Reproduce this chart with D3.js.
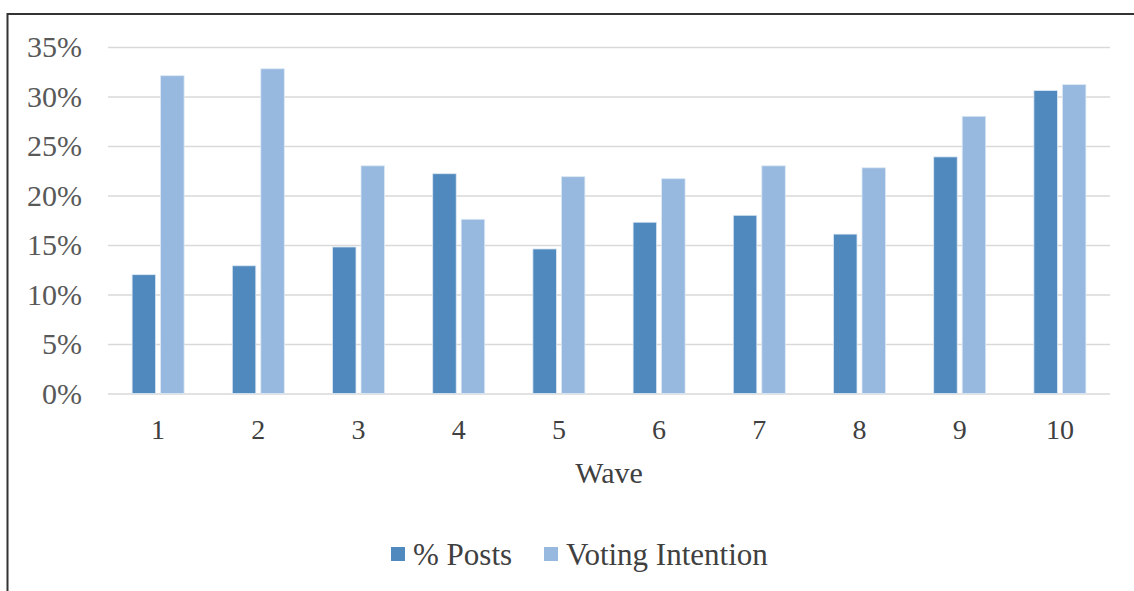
<!DOCTYPE html>
<html>
<head>
<meta charset="utf-8">
<script src="https://cdn.jsdelivr.net/npm/d3@7"></script>
<style>
  body { margin: 0; background: #fff; }
  svg { display: block; }
</style>
</head>
<body>
<div id="chart"></div>
<script>
// Data
var waves = ["1", "2", "3", "4", "5", "6", "7", "8", "9", "10"];
var postsPct = [12.0, 12.9, 14.8, 22.2, 14.6, 17.3, 18.0, 16.1, 23.9, 30.6];
var votingPct = [32.1, 32.8, 23.0, 17.6, 21.9, 21.7, 23.0, 22.8, 28.0, 31.2];
var seriesNames = ["% Posts", "Voting Intention"];
var yTicks = [0, 5, 10, 15, 20, 25, 30, 35];

var seriesColors = ["#4f89bd", "#98b9df"];
var fontFamily = "'Liberation Serif', 'Times New Roman', serif";

var width = 1134, height = 591;
var margin = { top: 47, right: 24, bottom: 197.5, left: 108 };
var innerWidth = width - margin.left - margin.right;
var innerHeight = height - margin.top - margin.bottom;

var svg = d3.select("#chart").append("svg")
    .attr("width", width)
    .attr("height", height)
    .attr("font-family", fontFamily);

// Outer frame (runs off the right and bottom edges)
svg.append("path")
    .attr("d", "M7.5,591V14H1134")
    .attr("fill", "none")
    .attr("stroke", "#333")
    .attr("stroke-width", 2);

var g = svg.append("g")
    .attr("transform", `translate(${margin.left}, ${margin.top})`);

var x = d3.scaleBand()
    .domain(waves)
    .range([0, innerWidth])
    .padding(0);

var y = d3.scaleLinear()
    .domain([0, 35])
    .range([innerHeight, 0]);

// Gridlines and y labels
var yAxis = g.append("g")
    .call(d3.axisLeft(y).tickValues(yTicks).tickSize(-innerWidth).tickFormat(d => d + "%"))
    .attr("font-family", fontFamily)
    .attr("font-size", 30);
yAxis.select(".domain").remove();
yAxis.selectAll("line").attr("stroke", "#d9d9d9").attr("stroke-width", 1.6);
yAxis.selectAll("text")
    .attr("x", -26)
    .attr("fill", "#595959");

// Bars
var barW = 23.5, gap = 5;
var series = [postsPct, votingPct];
series.forEach(function (vals, s) {
    g.append("g").selectAll("rect")
        .data(vals)
        .join("rect")
        .attr("x", (d, i) => x.bandwidth() / 2 + x(waves[i]) + (s === 0 ? -(barW + gap / 2) : gap / 2))
        .attr("y", d => y(d))
        .attr("width", barW)
        .attr("height", d => innerHeight - y(d))
        .attr("fill", seriesColors[s])
        .attr("stroke", "#dce8f4")
        .attr("stroke-width", 0.8);
});

// X labels
var xAxis = g.append("g")
    .attr("transform", `translate(0, ${innerHeight})`)
    .call(d3.axisBottom(x).tickSize(0).tickPadding(0))
    .attr("font-family", fontFamily)
    .attr("font-size", 28);
xAxis.select(".domain").remove();
xAxis.selectAll("text")
    .attr("y", 45.5)
    .attr("dy", null)
    .attr("fill", "#404040");

// Axis title
g.append("text")
    .attr("x", innerWidth / 2)
    .attr("y", innerHeight + 89.5)
    .attr("text-anchor", "middle")
    .attr("fill", "#404040")
    .attr("font-size", 30)
    .text("Wave");

// Legend
var legendX = [391, 544];
seriesNames.forEach(function (name, s) {
    var lg = svg.append("g").attr("transform", `translate(${legendX[s]}, 547)`);
    lg.append("rect")
        .attr("width", 14)
        .attr("height", 14)
        .attr("fill", seriesColors[s]);
    lg.append("text")
        .attr("x", 22)
        .attr("y", 18)
        .attr("fill", "#404040")
        .attr("font-size", 31)
        .text(name);
});
</script>
</body>
</html>
